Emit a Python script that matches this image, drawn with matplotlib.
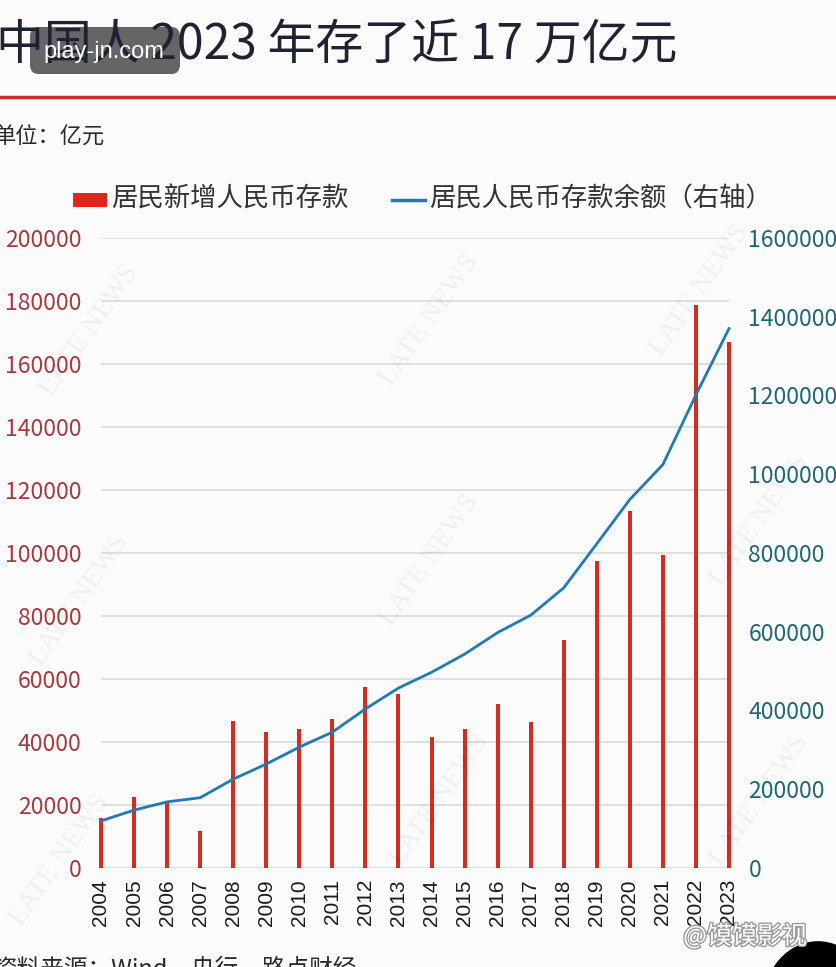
import matplotlib
matplotlib.use("Agg")
import matplotlib.pyplot as plt
import matplotlib.patheffects as pe
from matplotlib.patches import FancyBboxPatch, Circle
import numpy as np

plt.rcParams['font.family'] = ['Noto Sans CJK SC', 'DejaVu Sans']

# 数据（亿元）
years = [str(y) for y in range(2004, 2024)]
new_deposits = [16000, 22500, 21100, 11600, 46600, 43200, 44000, 47400, 57400, 55300,
                41600, 44200, 52000, 46300, 72300, 97400, 113400, 99300, 178600, 166900]
balance = [119600, 147000, 168000, 178500, 225700, 264000, 307000, 345000, 404000, 457000,
           497000, 543000, 598000, 642000, 711500, 823500, 936000, 1024700, 1201500, 1370000]
left_ticks = list(range(0, 200001, 20000))
right_ticks = list(range(0, 1600001, 200000))

title = "中国人 2023 年存了近 17 万亿元"
bar_label = "居民新增人民币存款"
line_label = "居民人民币存款余额（右轴）"

W, H = 837, 967
fig = plt.figure(figsize=(W / 100, H / 100), dpi=100)
fig.patch.set_facecolor("#fbfbfc")

def fx(px):
    return px / W

def fy(py):
    return 1 - py / H

ax = fig.add_axes([fx(101), fy(868), fx(729) - fx(101), fy(238) - fy(868)])
ax.set_facecolor("none")
ax2 = ax.twinx()

x = np.arange(len(years))
ax.bar(x, new_deposits, width=0.12, color="#d52b20", zorder=3, clip_on=False)
ax2.plot(x, balance, color="#1f7bb2", lw=2.0, zorder=4, clip_on=False)

ax.set_xlim(0, len(years) - 1)
ax.set_ylim(0, 200000)
ax2.set_ylim(0, 1600000)

ax.set_yticks(left_ticks)
ax.set_yticklabels([str(v) for v in left_ticks], fontsize=16.5, color="#a8383c")
ax2.set_yticks(right_ticks)
ax2.set_yticklabels([str(v) for v in right_ticks], fontsize=16.5, color="#1d6775")
ax.set_xticks(x)
ax.set_xticklabels(years, rotation=90, fontsize=15, color="#1a1a1a", family="Liberation Sans")

ax.tick_params(axis="y", length=0, pad=14)
ax2.tick_params(axis="y", length=0, pad=14)
ax.tick_params(axis="x", length=0, pad=8)

ax.grid(axis="y", color="#dddddd", lw=1.3, zorder=0)
ax.set_axisbelow(True)
for a in (ax, ax2):
    for s in a.spines.values():
        s.set_visible(False)

# 标题与装饰
fig.text(fx(-4), fy(45), title, fontsize=34.5, color="#1e2232", va="center", ha="left")
fig.add_artist(plt.Line2D([0, 1], [fy(97), fy(97)], color="#c8302a", lw=2.5))
fig.text(fx(-6), fy(137), "单位：亿元", fontsize=16, color="#2a2a2a", va="center", ha="left")

# 图例
fig.add_artist(plt.Rectangle((fx(73), fy(207)), fx(107) - fx(73), fy(193) - fy(207),
                             color="#e0261c", lw=0))
fig.text(fx(111), fy(199), bar_label, fontsize=19, color="#333333", va="center", ha="left")
fig.add_artist(plt.Line2D([fx(392), fx(425)], [fy(200), fy(200)], color="#1f7bb2", lw=2.5))
fig.text(fx(429), fy(199), line_label, fontsize=19, color="#333333", va="center", ha="left")

# 来源（被裁切）
fig.text(fx(-6), fy(957), "资料来源：Wind，央行，路点财经", fontsize=17, color="#2a2a2a",
         va="top", ha="left")

# 水印
for (wx, wy) in [(90, 330), (430, 320), (700, 290), (80, 600), (430, 560), (760, 520),
                 (60, 860), (440, 800), (760, 800)]:
    fig.text(fx(wx), fy(wy), "LATE NEWS", fontsize=20, color="#000000", alpha=0.05,
             rotation=55, ha="center", va="center", family="Liberation Serif")

fig.add_artist(FancyBboxPatch((fx(30), fy(74)), fx(180) - fx(30), fy(27) - fy(74),
                              boxstyle="round,pad=0,rounding_size=0.01",
                              facecolor="#555555", alpha=0.9, edgecolor="none"))
fig.text(fx(104), fy(52), "play-jn.com", fontsize=17, color="white", ha="center", va="center",
         family="Liberation Sans")

fig.text(fx(745), fy(937), "@馍馍影视", fontsize=18, color="white", ha="center", va="center",
         path_effects=[pe.withStroke(linewidth=2, foreground="#9a9a9a")])
fig.add_artist(Circle((fx(818), fy(1005)), 0.066, transform=fig.transFigure,
                      facecolor="black", edgecolor="none"))

fig.savefig("out.png", dpi=100, facecolor=fig.get_facecolor())
